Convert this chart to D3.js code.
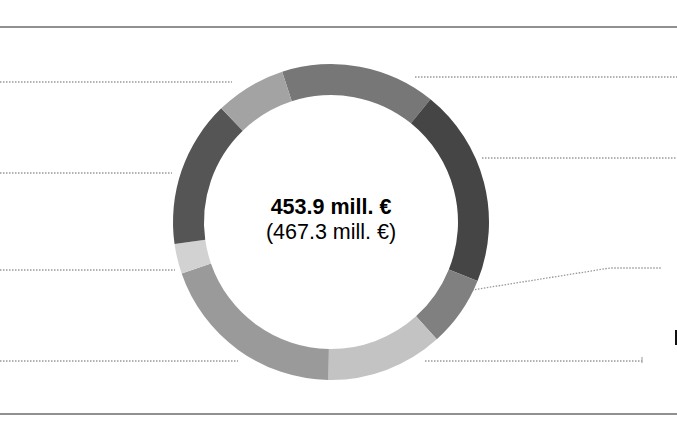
<!DOCTYPE html>
<meta charset="utf-8">
<head>
    <script src="https://cdn.jsdelivr.net/npm/d3@7"></script>
    <style>
        body { margin: 0; background: #fff; }
        text { font-family: "Liberation Sans", Arial, sans-serif; }
    </style>
</head>
<body>
<script>
    var width = 677
    var height = 440

    // slices, clockwise from the top (mill. €)
    var segments = ["s1", "s2", "s3", "s4", "s5", "s6", "s7", "s8"]
    var values = [71.9, 92.0, 32.8, 54.2, 88.3, 13.9, 68.1, 32.8]
    var colors = ["#777777", "#454545", "#808080", "#c3c3c3", "#9a9a9a", "#d2d2d2", "#555555", "#a3a3a3"]
    var totalLabel = "453.9 mill. €"
    var prevLabel = "(467.3 mill. €)"

    // dotted leader lines (annotation layout)
    var leaders = [
        [[415, 77], [677, 77]],
        [[482, 158], [677, 158]],
        [[472, 290], [610, 268], [662, 268]],
        [[425, 361], [642, 361]],
        [[0, 82], [232, 82]],
        [[0, 173], [172, 173]],
        [[0, 270], [175, 270]],
        [[0, 361], [238, 361]]
    ]

    var svg = d3.select("body").append("svg")
        .attr("width", width)
        .attr("height", height)

    svg.append("line").attr("x1", 0).attr("x2", width).attr("y1", 27).attr("y2", 27)
        .style("stroke", "#222").style("stroke-width", 1.2)
    svg.append("line").attr("x1", 0).attr("x2", width).attr("y1", 414).attr("y2", 414)
        .style("stroke", "#222").style("stroke-width", 1.2)

    var line = d3.line()
    svg.selectAll("path.leader")
        .data(leaders)
        .enter()
        .append("path")
        .attr("class", "leader")
        .attr("d", line)
        .style("fill", "none")
        .style("stroke", "#999")
        .style("stroke-width", 1.3)
        .style("stroke-dasharray", "1.5,1.5")

    svg.append("line").attr("x1", 642).attr("x2", 642).attr("y1", 357).attr("y2", 363)
        .style("stroke", "#999")
    svg.append("rect").attr("x", 675).attr("y", 330).attr("width", 2).attr("height", 15).style("fill", "#111")

    var cx = 331, cy = 222
    var start = -18 * Math.PI / 180
    var pie = d3.pie().sort(null).startAngle(start).endAngle(start + 2 * Math.PI)
    var arc = d3.arc().innerRadius(127).outerRadius(158)

    var g = svg.append("g").attr("transform", "translate(" + cx + "," + cy + ")")
    g.selectAll("path")
        .data(pie(values))
        .enter()
        .append("path")
        .attr("d", arc)
        .style("fill", function (d, i) { return colors[i] })

    g.append("text").attr("text-anchor", "middle").attr("y", -8)
        .style("font-size", "21.5px").style("font-weight", "bold").text(totalLabel)
    g.append("text").attr("text-anchor", "middle").attr("y", 17)
        .style("font-size", "21.5px").text(prevLabel)
</script>
</body>
